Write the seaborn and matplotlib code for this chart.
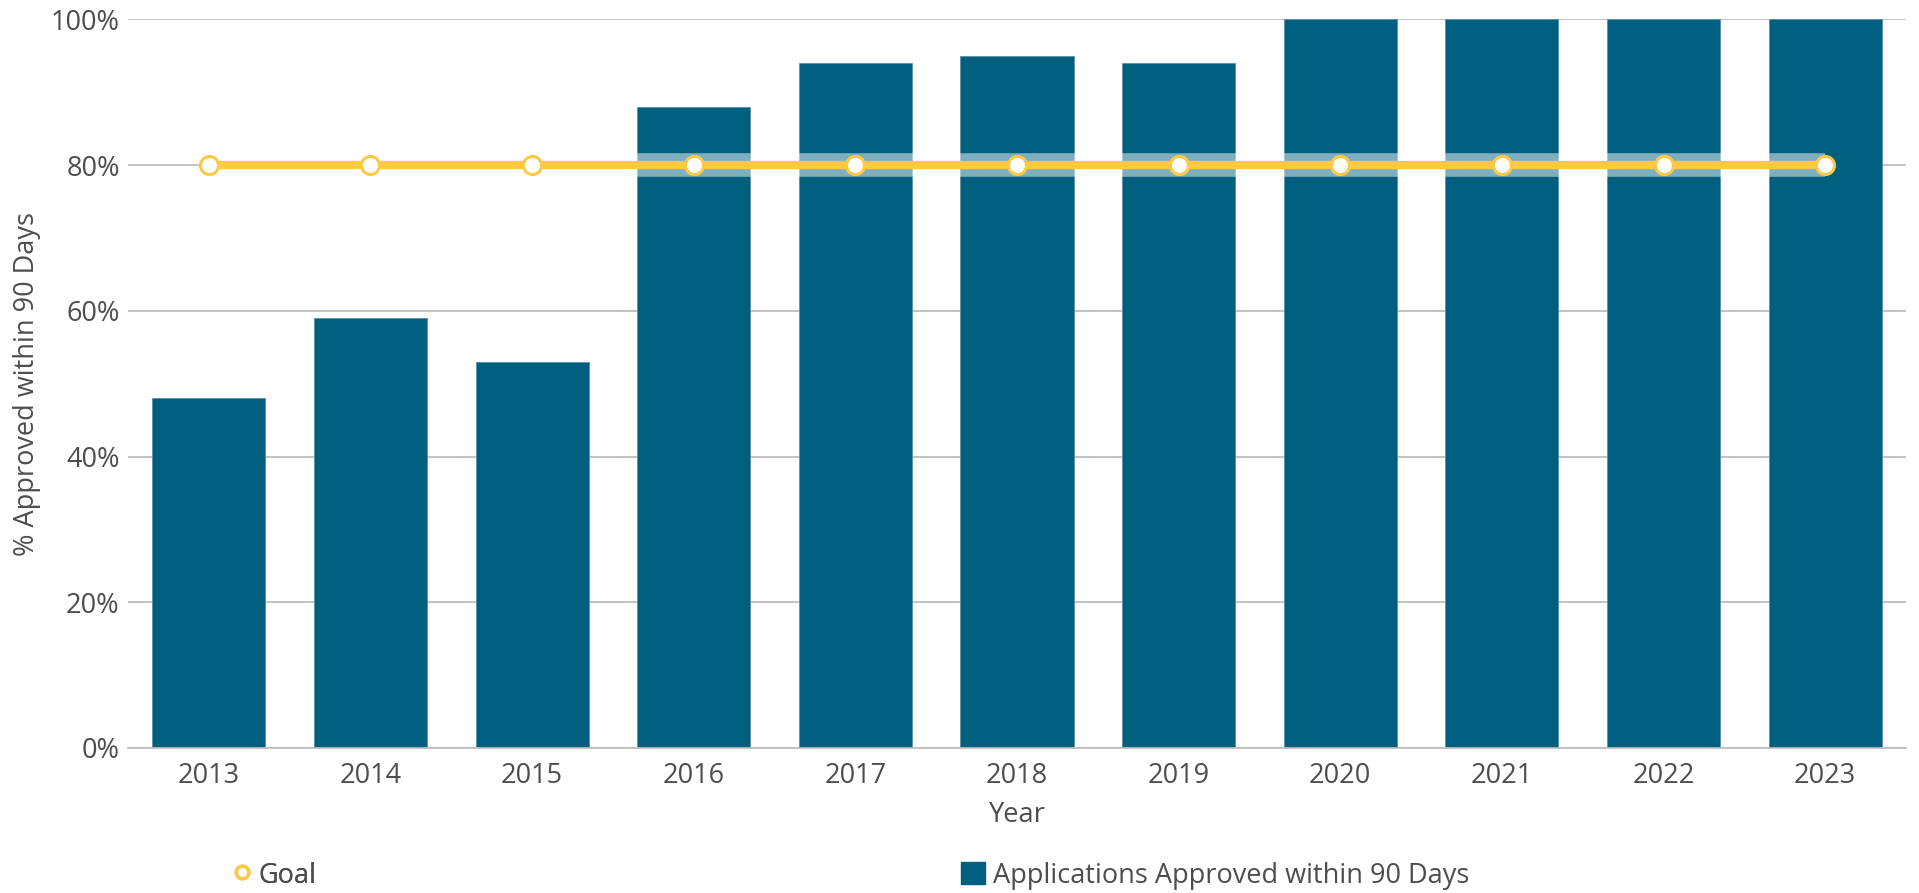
"""
Share of applications approved within 90 days vs. the 80% goal
"""

import matplotlib.pyplot as plt
import numpy as np
import pandas as pd
import seaborn as sns
from matplotlib.lines import Line2D
from matplotlib.patches import Patch

# data
years = ["2013", "2014", "2015", "2016", "2017", "2018", "2019", "2020", "2021", "2022", "2023"]
approved_pct = [48, 59, 53, 88, 94, 95, 94, 100, 100, 100, 100]
goal_pct = [80, 80, 80, 80, 80, 80, 80, 80, 80, 80, 80]

BAR_COLOR = "#005f7f"
GOAL_COLOR = "#ffc845"
TEXT_COLOR = "#4d4d4d"
GRID_COLOR = "#bdbdbd"

sns.set_theme(style="white")
plt.rcParams["font.family"] = ["Open Sans", "DejaVu Sans"]
plt.rcParams["text.color"] = TEXT_COLOR
plt.rcParams["axes.labelcolor"] = TEXT_COLOR
plt.rcParams["xtick.color"] = TEXT_COLOR
plt.rcParams["ytick.color"] = TEXT_COLOR

df = pd.DataFrame({"Year": years, "Approved": approved_pct, "Goal": goal_pct})
df["pos"] = np.arange(len(df))

fig = plt.figure(figsize=(19.19, 8.93), dpi=100)
ax = fig.add_axes([0.0667, 0.1624, 0.9265, 0.8158])

# bars
sns.barplot(data=df, x="Year", y="Approved", color=BAR_COLOR, saturation=1,
            width=0.7, edgecolor="#5a8fa6", linewidth=0.6, ax=ax, zorder=2)

# soft highlight band behind the goal line
ax.plot(df["pos"], df["Goal"], color="white", alpha=0.5, linewidth=17,
        solid_capstyle="butt", zorder=3)

# goal line with hollow markers
sns.lineplot(data=df, x="pos", y="Goal", color=GOAL_COLOR, linewidth=6,
             marker="o", markersize=13, markerfacecolor="white",
             markeredgecolor=GOAL_COLOR, markeredgewidth=2.2, ax=ax, zorder=4)

# axes styling
ax.set_xlim(-0.5, len(years) - 0.5)
ax.set_ylim(0, 100)
ax.set_yticks([0, 20, 40, 60, 80, 100])
ax.set_yticklabels([f"{v}%" for v in [0, 20, 40, 60, 80, 100]])
ax.set_xticks(df["pos"])
ax.set_xticklabels(years)
ax.grid(axis="y", color=GRID_COLOR, linewidth=1.3, zorder=0)
ax.set_axisbelow(True)
for side in ["top", "right", "left"]:
    ax.spines[side].set_visible(False)
ax.spines["bottom"].set_color(GRID_COLOR)
ax.spines["bottom"].set_linewidth(1.3)
ax.tick_params(axis="both", length=0, labelsize=19.5)
ax.tick_params(axis="x", pad=10)
ax.tick_params(axis="y", pad=6)

ax.set_xlabel("Year", fontsize=19.5)
ax.set_ylabel("% Approved within 90 Days", fontsize=19.5)
ax.xaxis.set_label_coords(0.5, -0.073)
ax.yaxis.set_label_coords(-0.049, 0.5)

# legend entries placed separately, like the original
goal_handle = Line2D([], [], linestyle="none", marker="o", markersize=9,
                     markerfacecolor="white", markeredgecolor=GOAL_COLOR,
                     markeredgewidth=2.5)
bar_handle = Patch(facecolor=BAR_COLOR, edgecolor=BAR_COLOR)
leg_kw = dict(frameon=False, fontsize=19.5, handlelength=0.9, handleheight=0.9,
              loc="center left")
leg1 = fig.legend([goal_handle], ["Goal"], bbox_to_anchor=(0.107, 0.0195),
                  handletextpad=0.15, **leg_kw)
fig.legend([bar_handle], ["Applications Approved within 90 Days"],
           bbox_to_anchor=(0.488, 0.0195), handletextpad=0.3, **leg_kw)
fig.add_artist(leg1)

plt.savefig("out.png", dpi=100)
